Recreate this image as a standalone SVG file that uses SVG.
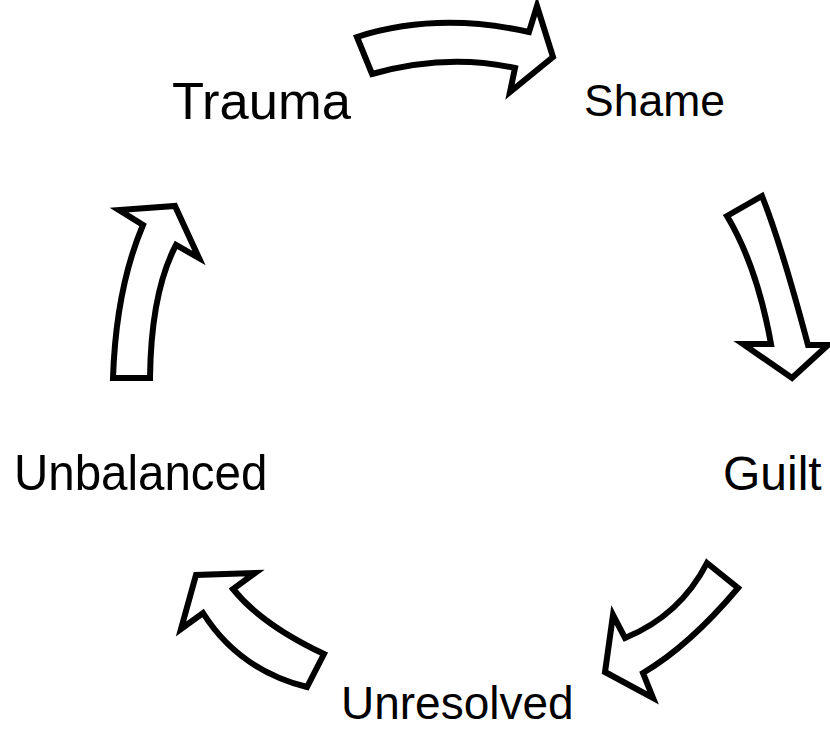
<svg xmlns="http://www.w3.org/2000/svg" width="830" height="729" viewBox="0 0 830 729">
<style>
.arr{fill:#fff;stroke:#000;stroke-width:6;stroke-linejoin:miter}
.lbl{font-family:"Liberation Sans",Arial,sans-serif;fill:#000}
</style>
<rect width="830" height="729" fill="#fff"/>
<g id="connectors">
<path id="a1" class="arr" d="M357,37 L372,74 Q446.5,53 515,68 L510,92 L553,57 L537,6 L529,32 Q437,11.5 357,37 Z"/>
<path id="a2" class="arr" d="M727,216 L762,196 Q781,243.5 808,345 L828,345 L792,378 L743,344 L771,344 Q757,266 727,216 Z"/>
<path id="a4" class="arr" d="M707,563 L738,588 Q689.5,645.5 643,673 L653,698 L605,672 L613,615 L625,638 Q680,615.5 707,563 Z"/>
<path id="a5" class="arr" d="M324,654 L307,687 Q239,670 203,613 L181,629 L196,575 L255,573 L233,589 Q261.5,624.5 324,654 Z"/>
<path id="a3" class="arr" d="M113,378 L150,378 Q151,292.5 176,245 L199,258 L175,206 L119,210 L143,225 Q116,288.5 113,378 Z"/>
</g>
<g id="trauma"><text class="lbl" x="172" y="119" font-size="52.5">Trauma</text></g>
<g id="shame"><text class="lbl" x="584" y="116" font-size="44.5">Shame</text></g>
<g id="guilt"><text class="lbl" x="723" y="490" font-size="48">Guilt</text></g>
<g id="unresolved"><text class="lbl" x="341" y="719" font-size="46">Unresolved</text></g>
<g id="unbalanced"><text class="lbl" transform="translate(14,490) scale(1,1.04)" font-size="47.5">Unbalanced</text></g>
</svg>
